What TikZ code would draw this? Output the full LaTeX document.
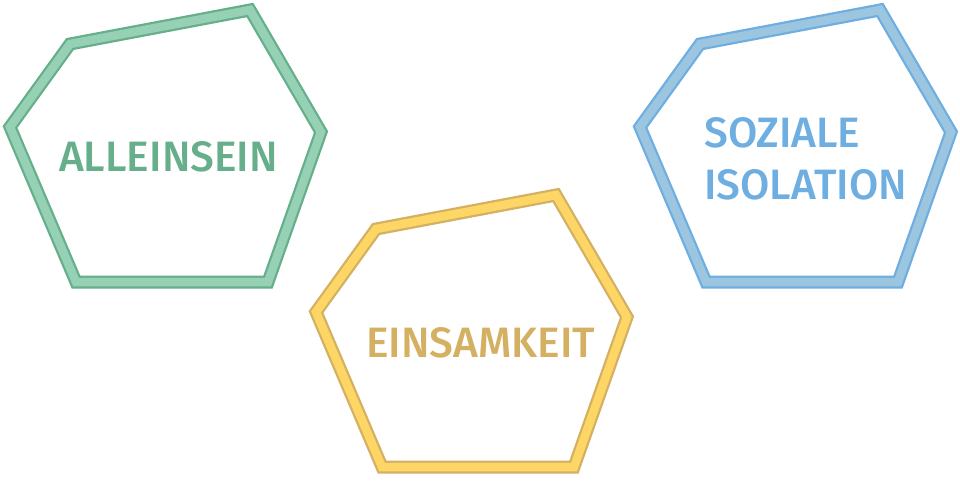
\documentclass[tikz,border=0pt]{standalone}
\usepackage{fontspec}
\setmainfont{Fira Sans}[BoldFont={Fira Sans Medium}]
\definecolor{gdark}{HTML}{66AF8A}
\definecolor{glight}{HTML}{96D1B6}
\definecolor{ydark}{HTML}{D4B062}
\definecolor{ylight}{HTML}{FDD665}
\definecolor{bdark}{HTML}{6EAEE0}
\definecolor{blight}{HTML}{9CC5E0}
\tikzset{
  hexout/.style={line width=13pt, line join=miter},
  hexin/.style={line width=8.5pt, line join=miter},
  lbl/.style={font=\bfseries\fontsize{42.5}{52}\selectfont, inner sep=0pt, anchor=base west},
}
\newcommand{\hexpath}{(70,44) -- (250,10) -- (321,132) -- (268,282) -- (76,282) -- (10,127) -- cycle}
\begin{document}
\begin{tikzpicture}[x=1pt,y=-1pt]
\useasboundingbox (0,0) rectangle (960,480);
\foreach \dx/\dy/\dk/\lt in {0/0/gdark/glight, 630/0/bdark/blight, 306/185/ydark/ylight}{
  \begin{scope}[shift={(\dx,\dy)}]
    \draw[hexout, draw=\dk] \hexpath;
    \draw[hexin, draw=\lt] \hexpath;
  \end{scope}
}
\node[lbl, text=gdark] (a) at (59,171) {ALLEINSEIN};
\node[lbl, text=ydark] (e) at (366,357) {EINSAMKEIT};
\node[lbl, text=bdark] (s1) at (704,147) {SOZIALE};
\node[lbl, text=bdark] (s2) at (704,199) {ISOLATION};
\end{tikzpicture}
\end{document}
